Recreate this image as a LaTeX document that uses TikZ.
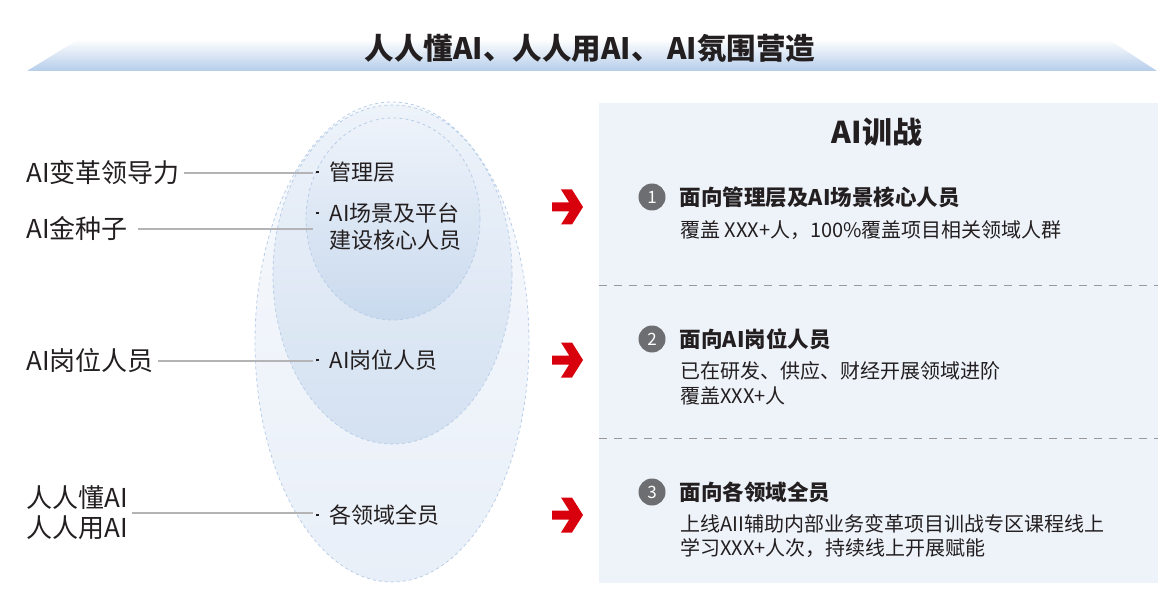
\documentclass[tikz,border=0pt]{standalone}
\usepackage{fontspec}
\setmainfont{Noto Sans CJK SC}
\usepackage{xcolor}
\usepackage{tikz}
\usetikzlibrary{arrows,calc,positioning}
\definecolor{ink}{HTML}{231F20}
\definecolor{numgray}{HTML}{6D6E71}
\definecolor{arrowred}{HTML}{D9000D}
\definecolor{panelblue}{HTML}{EEF3FA}
\definecolor{bannerblue}{HTML}{B5CDEA}
\definecolor{guidegray}{HTML}{B4B4B6}
\definecolor{layerline}{HTML}{B7CDE8}
\newcommand{\trainarrow}[1]{\fill[arrowred, shift={(552,#1)}] (0,-4.5) -- (17.2,-4.5) -- (9,-17.5) -- (20,-17.5) -- (31,0) -- (20,17.5) -- (9,17.5) -- (17.2,4.5) -- (0,4.5) -- cycle;}
\newcommand{\tierdot}{\raisebox{0.32em}{\rule{2.6pt}{2.6pt}}\hspace{11pt}}
\tikzstyle{lead} = [anchor=west, align=left, inner sep=0pt, text=ink, font=\fontsize{26}{30}\selectfont]
\tikzstyle{tier} = [anchor=west, align=left, inner sep=0pt, text=ink, font=\fontsize{22}{27}\selectfont]
\tikzstyle{guide} = [draw=guidegray, line width=1.3pt, shorten <=4pt, shorten >=3pt]
\tikzstyle{layer} = [draw=layerline, dashed, line width=0.8pt]
\tikzstyle{numdot} = [circle, fill=numgray, text=white, inner sep=0pt, minimum width=27pt, minimum height=27pt, font=\fontsize{17}{17}\selectfont]
\tikzstyle{headline} = [inner sep=0pt, text=ink, font=\bfseries\fontsize{21.5}{26}\selectfont]
\tikzstyle{detail} = [anchor=west, align=left, inner sep=0pt, text=ink, font=\fontsize{20}{24.5}\selectfont]
\begin{document}
\begin{tikzpicture}[x=1pt,y=-1pt]
\useasboundingbox (0,0) rectangle (1170,596);
% banner
\shade[top color=white, bottom color=bannerblue] (27,71) -- (79,39) -- (1108,39) -- (1157,71) -- cycle;
\node[headline, font=\bfseries\fontsize{29.5}{34}\selectfont] (banner) at (590,48) {人人懂AI、人人用AI、 AI氛围营造};
% layers
\shadedraw[layer, top color=white!60!panelblue, bottom color=panelblue!90!layerline] (392,342) ellipse [x radius=137, y radius=240];
\shadedraw[layer, top color=panelblue, bottom color=layerline!60!white] (392.5,274.5) ellipse [x radius=119.5, y radius=169.5];
\shadedraw[layer, top color=panelblue, bottom color=layerline!75!white] (393,219) ellipse [x radius=87, y radius=101];
\node[tier] (tier1) at (316,172) {\tierdot 管理层};
\node[tier] (tier2) at (316,226.5) {\tierdot AI场景及平台\\\hphantom{\tierdot}建设核心人员};
\node[tier] (tier3) at (316,360) {\tierdot AI岗位人员};
\node[tier] (tier4) at (316,515) {\tierdot 各领域全员};
% left labels
\node[lead] (lead1) at (26,173) {AI变革领导力};
\node[lead] (lead2) at (26,229) {AI金种子};
\node[lead] (lead3) at (26,361) {AI岗位人员};
\node[lead] (lead4) at (26,513) {人人懂AI\\人人用AI};
\draw[guide] (lead1.east) -- (lead1.east -| tier1.west);
\draw[guide, shorten <=10pt] (lead2.east) -- (lead2.east -| tier2.west);
\draw[guide] (lead3.east) -- (lead3.east -| tier3.west);
\draw[guide] (lead4.east) -- (lead4.east -| tier4.west);
% arrows
\trainarrow{207}
\trainarrow{360}
\trainarrow{515}
% training panel
\fill[panelblue] (599,103) rectangle (1158,583);
\draw[guidegray!85!black, dashed, dash pattern=on 8pt off 7pt, line width=0.9pt] (599,285) -- (1158,285);
\draw[guidegray!85!black, dashed, dash pattern=on 8pt off 7pt, line width=0.9pt] (599,438) -- (1158,438);
\node[headline, font=\bfseries\fontsize{30}{34}\selectfont] (train) at (877,132) {AI训战};
\node[numdot] (num1) at (652,197) {1};
\node[headline, right=14pt of num1] (head1) {面向管理层及AI场景核心人员};
\node[detail] (detail1) at (680,230) {覆盖 XXX+人，100\%覆盖项目相关领域人群};
\node[numdot] (num2) at (652,339) {2};
\node[headline, right=14pt of num2] (head2) {面向AI岗位人员};
\node[detail] (detail2) at (680,383.5) {已在研发、供应、财经开展领域进阶\\覆盖XXX+人};
\node[numdot] (num3) at (652,492) {3};
\node[headline, right=14pt of num3] (head3) {面向各领域全员};
\node[detail] (detail3) at (680,536) {上线AII辅助内部业务变革项目训战专区课程线上\\学习XXX+人次，持续线上开展赋能};
\end{tikzpicture}
\end{document}
